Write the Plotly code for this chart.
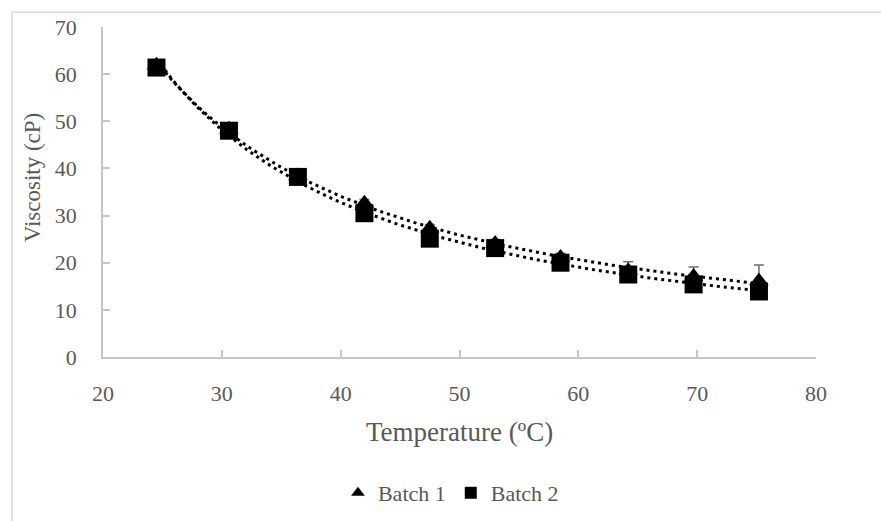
import numpy as np
import plotly.graph_objects as go

# ---- data ----
temperature = [24.5, 30.6, 36.4, 42.0, 47.5, 53.0, 58.5, 64.2, 69.7, 75.2]
batch1_visc = [61.9, 48.3, 38.4, 32.6, 27.3, 24.1, 21.1, 18.3, 17.1, 16.1]
batch1_err = [0.6, 0.6, 0.6, 0.8, 0.8, 0.8, 0.9, 1.9, 2.0, 3.4]
batch2_visc = [61.4, 48.0, 38.2, 30.5, 25.1, 23.1, 20.0, 17.5, 15.4, 13.9]

x_ticks = [20, 30, 40, 50, 60, 70, 80]
y_ticks = [0, 10, 20, 30, 40, 50, 60, 70]

FONT = "Palatino Linotype, Book Antiqua, Palatino, Liberation Serif, serif"
GREY_TXT = "#595959"
AXIS_COL = "#c6c6c6"


def power_fit(x, y):
    # Excel-style power trendline y = a * x^b (least squares in log-log space)
    b, ln_a = np.polyfit(np.log(x), np.log(y), 1)
    xs = np.linspace(min(x), max(x), 120)
    return xs, np.exp(ln_a) * xs ** b


fig = go.Figure()

for yv in (batch1_visc, batch2_visc):
    fx, fy = power_fit(np.array(temperature), np.array(yv))
    fig.add_trace(go.Scatter(x=fx, y=fy, mode="lines", showlegend=False,
                             hoverinfo="skip",
                             line=dict(color="black", width=3, dash="3px,4px")))

fig.add_trace(go.Scatter(
    x=temperature, y=batch1_visc, mode="markers", name="Batch 1",
    marker=dict(symbol="triangle-up", size=17, color="black"),
    error_y=dict(type="data", array=batch1_err, visible=True,
                 color="#6d6d6d", thickness=1.5, width=5),
))
fig.add_trace(go.Scatter(
    x=temperature, y=batch2_visc, mode="markers", name="Batch 2",
    marker=dict(symbol="square", size=18, color="black"),
))

axis_common = dict(
    showline=True, linecolor=AXIS_COL, linewidth=1.5,
    ticks="inside", ticklen=7, tickcolor=AXIS_COL, tickwidth=1.5,
    showgrid=False, zeroline=False, automargin=False,
    tickfont=dict(family=FONT, size=22, color=GREY_TXT),
)

fig.update_xaxes(range=[20, 80], tickvals=x_ticks, ticklabelstandoff=16,
                 **axis_common)
fig.update_yaxes(range=[0, 70], tickvals=y_ticks, ticklabelstandoff=20,
                 **axis_common)

fig.update_layout(
    width=881, height=521,
    margin=dict(l=103, r=65, t=27, b=164, pad=0, autoexpand=False),
    paper_bgcolor="white", plot_bgcolor="white",
    font=dict(family=FONT, color=GREY_TXT),
    showlegend=True,
    legend=dict(orientation="h", x=0.488, xanchor="center", y=-0.412,
                yanchor="middle", itemsizing="constant",
                font=dict(family=FONT, size=22, color=GREY_TXT),
                bgcolor="rgba(0,0,0,0)"),
    annotations=[
        dict(text="Temperature (ºC)", xref="paper", yref="paper",
             x=0.5, y=(356.7 - 432) / 330, xanchor="center",
             yanchor="middle", showarrow=False,
             font=dict(family=FONT, size=27, color=GREY_TXT)),
        dict(text="Viscosity (cP)", xref="paper", yref="paper",
             x=(32 - 103) / 713, y=(356.7 - 177) / 330, xanchor="center",
             yanchor="middle", textangle=-90, showarrow=False,
             font=dict(family=FONT, size=23, color=GREY_TXT)),
    ],
    shapes=[
        dict(type="rect", xref="paper", yref="paper",
             x0=(12 - 103) / 713, x1=1.3, y0=-0.7, y1=(356.7 - 12) / 330,
             line=dict(color="#d9d9d9", width=1.5), layer="below"),
    ],
)

fig.write_html("out.html",
               config={"displayModeBar": False},
               post_script="document.body.style.margin='0';")
